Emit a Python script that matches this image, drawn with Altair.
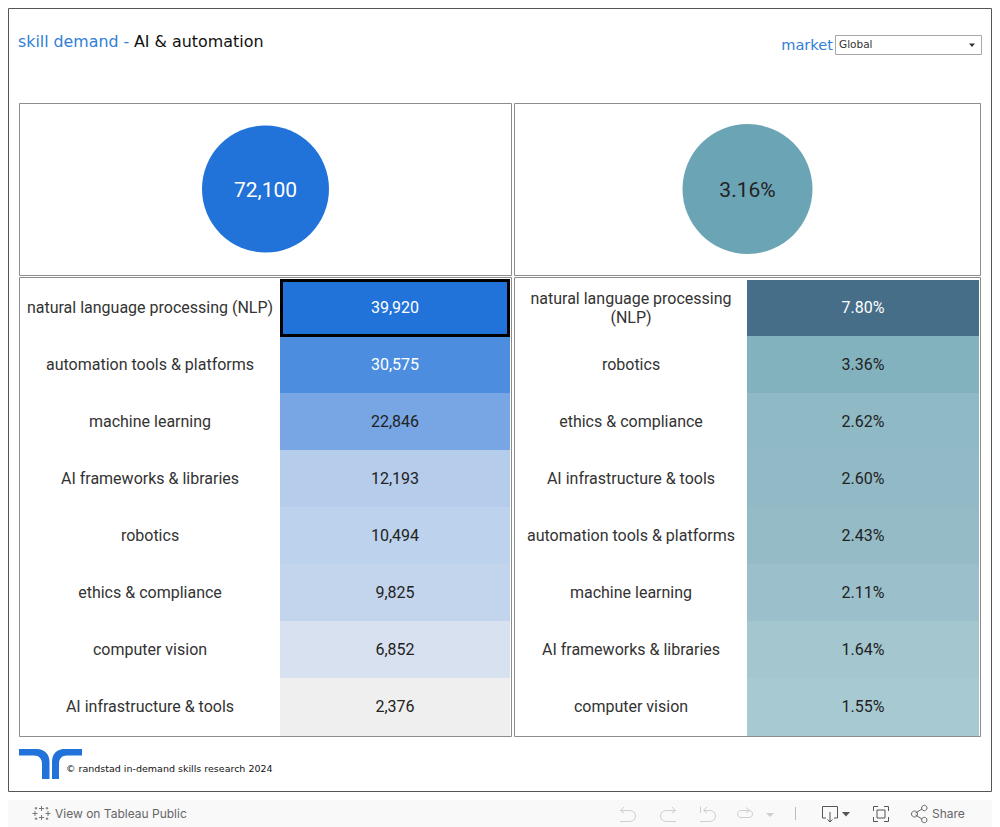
import altair as alt
import pandas as pd

left_skills = ["natural language processing (NLP)", "automation tools & platforms", "machine learning",
               "AI frameworks & libraries", "robotics", "ethics & compliance", "computer vision",
               "AI infrastructure & tools"]
left_values = [39920, 30575, 22846, 12193, 10494, 9825, 6852, 2376]
right_skills = ["natural language processing\n(NLP)", "robotics", "ethics & compliance",
                "AI infrastructure & tools", "automation tools & platforms", "machine learning",
                "AI frameworks & libraries", "computer vision"]
right_values = [0.0780, 0.0336, 0.0262, 0.0260, 0.0243, 0.0211, 0.0164, 0.0155]
kpi_left = 72100
kpi_right = 0.0316

left_colors = ["#2173d9", "#4c8de0", "#78a6e5", "#b5cdea", "#bdd2ec", "#c3d5ed", "#d7e1f0", "#efefef"]
right_colors = ["#466e88", "#83b2bf", "#90b9c6", "#91bac6", "#94bbc6", "#9bc0cb", "#a3c6cf", "#a7c9d2"]

BLUE = "#2f7ed8"
ONE = alt.Data(values=[{"a": 1}])
OFF = 8


def px(v):
    return alt.value(v - OFF)


def box(x0, y0, x1, y1, stroke=None, fill=None, sw=1):
    kw = {"strokeWidth": sw}
    kw["stroke"] = stroke if stroke else "transparent"
    kw["fill"] = fill if fill else "transparent"
    return alt.Chart(ONE).mark_rect(**kw).encode(x=px(x0), x2=px(x1), y=px(y0), y2=px(y1))


def label(x, y, text, size=16, color="#333333", font="Roboto", align="center", **kw):
    return alt.Chart(alt.Data(values=[{"t": text}])).mark_text(
        font=font, fontSize=size, color=color, align=align, baseline="middle", **kw
    ).encode(x=px(x), y=px(y), text="t:N")


def icon(path, stroke=None, fill=None, sw=1):
    kw = {"shape": path, "size": 4, "opacity": 1, "strokeWidth": sw}
    kw["filled"] = bool(fill)
    if fill:
        kw["fill"] = fill
        kw["stroke"] = "transparent"
    else:
        kw["stroke"] = stroke
    return alt.Chart(ONE).mark_point(**kw).encode(x=px(0), y=px(0))


def table(skills, values, colors, fmt, y0, y1, lx, bx0, bx1, white):
    df = pd.DataFrame({"skill": skills, "value": values})
    y = alt.Y("skill:N", scale=alt.Scale(domain=skills, range=[y0 - OFF, y1 - OFF], paddingInner=0, paddingOuter=0,
                                         round=True),
              axis=None, sort=None)
    base = alt.Chart(df)
    under = box(bx0, y1 - 10, bx1, y1 + 1, fill=colors[-1])
    cells = base.mark_rect(strokeWidth=0).encode(
        x=px(bx0), x2=px(bx1), y=y,
        color=alt.Color("value:O", scale=alt.Scale(domain=values, range=colors), legend=None))
    top = box(bx0, y0, bx1, y0 + 1, fill="#ffffff")
    style = dict(font="Roboto", fontSize=16, color="#333333", lineBreak="\n", lineHeight=19, baseline="middle")
    names = base.transform_filter("indexof(datum.skill, '\\n') < 0").mark_text(**style).encode(
        x=px(lx), y=y, text="skill:N")
    wrapped = base.transform_filter("indexof(datum.skill, '\\n') >= 0").mark_text(dy=-9.5, **style).encode(
        x=px(lx), y=y, text="skill:N")
    nums = base.mark_text(font="Roboto", fontSize=16, baseline="middle").encode(
        x=px((bx0 + bx1) / 2), y=y, text=alt.Text("value:Q", format=fmt),
        color=alt.condition(alt.datum.value >= white, alt.value("#ffffff"), alt.value("#222222")))
    return [under, cells, top, names, wrapped, nums]


kpis = pd.DataFrame({"v": [kpi_left]})
kpis2 = pd.DataFrame({"v": [kpi_right]})

layers = [
    box(0, 800, 1000, 827, fill="#f9f9f9"),
    box(8.5, 8.5, 991.5, 791.5, stroke="#555555"),
    box(19.5, 103.5, 511.5, 275.5, stroke="#8c8c8c"),
    box(514.5, 103.5, 980.5, 275.5, stroke="#8c8c8c"),
    box(19.5, 277.5, 511.5, 736.5, stroke="#8c8c8c"),
    box(514.5, 277.5, 980.5, 736.5, stroke="#8c8c8c"),
    label(18, 42, "skill demand -", 15.8, BLUE, "DejaVu Sans", "left"),
    label(134, 42, "AI & automation", 15.9, "#111111", "DejaVu Sans", "left"),
    label(833, 46, "market", 14.6, BLUE, "DejaVu Sans", "right"),
    box(835.5, 35.5, 981.5, 54.5, stroke="#a8a8a8", fill="#ffffff"),
    label(839, 45, "Global", 10.5, "#333333", "DejaVu Sans", "left"),
    icon("M969,43.5 L975,43.5 L972,47 Z", fill="#333333"),
    alt.Chart(kpis).mark_circle(size=16129, color="#2173d9", opacity=1).encode(x=px(265.5), y=px(189)),
    alt.Chart(kpis).mark_text(font="Roboto", fontSize=21, color="#ffffff", baseline="middle").encode(
        x=px(265.5), y=px(191), text=alt.Text("v:Q", format=",")),
    alt.Chart(kpis2).mark_circle(size=16900, color="#6ba5b5", opacity=1).encode(x=px(747.5), y=px(189)),
    alt.Chart(kpis2).mark_text(font="Roboto", fontSize=21, color="#222222", baseline="middle").encode(
        x=px(747.5), y=px(191), text=alt.Text("v:Q", format=".2%")),
]
layers += table(left_skills, left_values, left_colors, ",", 279, 735, 150, 280, 510, 30000)
layers += table(right_skills, right_values, right_colors, ".2%", 279, 735, 631, 747, 979, 0.05)
layers += [
    box(281.5, 280.5, 508.5, 335.5, stroke="#000000", sw=3),
    icon("M19,749 H37 C44,749 49.5,754 49.5,762 V779 H42 V764 C42,758.5 39,755.5 34,755.5 H19 Z", fill="#2173d9"),
    icon("M82,749 H64 C57,749 52,754 52,762 V779 H59 V764 C59,758.5 62,755.5 67,755.5 H82 Z", fill="#2173d9"),
    label(66, 769, "© randstad in-demand skills research 2024", 9.5, "#111111", "DejaVu Sans", "left"),
    # toolbar
    icon("M41.5,806 V811 M39,808.5 H44 M41.5,815 V820 M39,817.5 H44 M35,811 V816 M32.5,813.5 H37.5 "
         "M48,811 V816 M45.5,813.5 H50.5 M36,807 V809.5 M34.7,808.2 H37.3 M47,807 V809.5 M45.7,808.2 H48.3 "
         "M36,817.5 V820 M34.7,818.7 H37.3 M47,817.5 V820 M45.7,818.7 H48.3", stroke="#777777"),
    label(55, 813.5, "View on Tableau Public", 12, "#666666", "Inter", "left"),
    icon("M621,810.5 H630 A5.5,5.5 0 0 1 630,821.5 H620 M624,807 L620.5,810.5 L624,813", stroke="#cfcfcf"),
    icon("M675,810.5 H666 A5.5,5.5 0 0 0 666,821.5 H676 M672,807 L675.5,810.5 L672,813", stroke="#cfcfcf"),
    icon("M704,810.5 H710 A5.5,5.5 0 0 1 710,821.5 H700 M707,807 L703.5,810.5 L707,813 M700.5,806.5 V813", stroke="#cfcfcf"),
    icon("M741,810.5 H749 A3.5,3.5 0 0 1 749,817.5 H741 A3.5,3.5 0 0 1 741,810.5 M746,807.5 L749.5,810.5 L746,813", stroke="#cfcfcf"),
    icon("M766,813 H774 L770,817 Z", fill="#cfcfcf"),
    icon("M795.5,807 V820", stroke="#bdbdbd"),
    icon("M826,818 H822.5 V806.5 H837.5 V818 H834 M830,812 V822 M827.5,819.5 L830,822 L832.5,819.5", stroke="#555555"),
    icon("M842,812 H850 L846,816.5 Z", fill="#555555"),
    icon("M873.5,811 V806.5 H878 M884,806.5 H888.5 V811 M888.5,817 V821.5 H884 M878,821.5 H873.5 V817 M877,810 H885 V818 H877 Z", stroke="#555555"),
    icon("M915.5,813 L922,809 M915.5,815 L922,819 M917.5,814 A3,3 0 1 1 911.5,814 A3,3 0 1 1 917.5,814 "
         "M927,808 A2.7,2.7 0 1 1 921.6,808 A2.7,2.7 0 1 1 927,808 M927,820 A2.7,2.7 0 1 1 921.6,820 A2.7,2.7 0 1 1 927,820", stroke="#666666"),
    label(932, 813.5, "Share", 12, "#666666", "Inter", "left"),
]

chart = alt.layer(*layers).resolve_scale(x="independent", y="independent", color="independent").properties(
    width=984, height=819, padding=0, autosize=alt.AutoSizeParams(type="none"), background="#ffffff"
).configure_view(stroke=None)

chart.save("out.html", embed_options={"renderer": "svg", "actions": False})
